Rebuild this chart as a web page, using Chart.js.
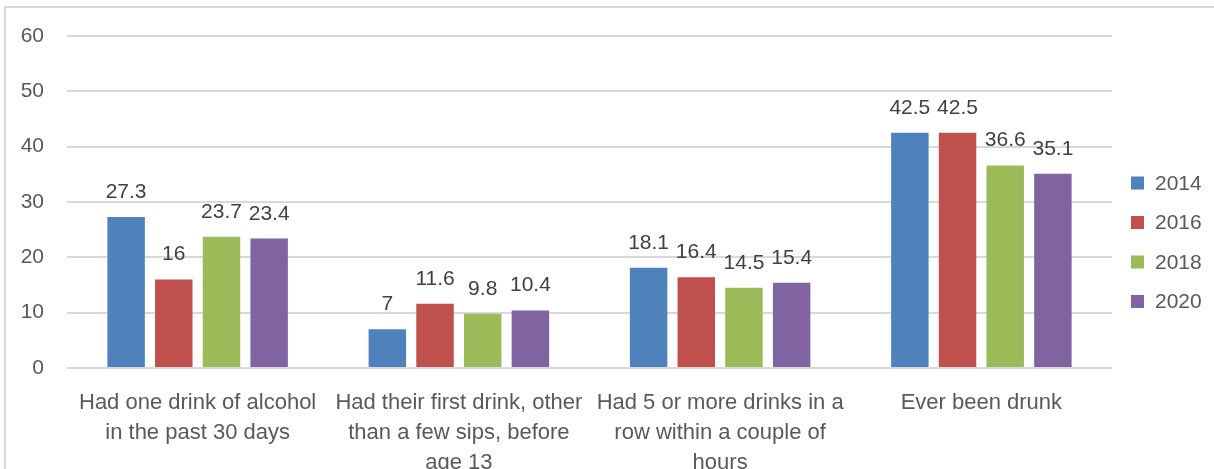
<!DOCTYPE html>
<html>
<head>
<meta charset="utf-8">
<script src="https://cdn.jsdelivr.net/npm/chart.js@4.4.1/dist/chart.umd.min.js"></script>
<style>
  html, body { margin: 0; padding: 0; background: #fff; }
  canvas { display: block; }
</style>
</head>
<body>
<canvas id="chart" width="1214" height="469"></canvas>
<script>
const categories = [
    ["Had one drink of alcohol", "in the past 30 days"],
    ["Had their first drink, other", "than a few sips, before", "age 13"],
    ["Had 5 or more drinks in a", "row within a couple of", "hours"],
    ["Ever been drunk"]
];
const years = ["2014", "2016", "2018", "2020"];
const values2014 = [27.3, 7, 18.1, 42.5];
const values2016 = [16, 11.6, 16.4, 42.5];
const values2018 = [23.7, 9.8, 14.5, 36.6];
const values2020 = [23.4, 10.4, 15.4, 35.1];
const colors = ["#4F81BD", "#C0504D", "#9BBB59", "#8064A2"];
const yTicks = [0, 10, 20, 30, 40, 50, 60];

const FONT = "'Liberation Sans', Arial, sans-serif";

// frame around the chart, like the original picture
const framePlugin = {
    id: "frame",
    beforeDraw(chart) {
        const ctx = chart.ctx;
        ctx.save();
        ctx.strokeStyle = "#d9d9d9";
        ctx.lineWidth = 2;
        ctx.beginPath();
        ctx.moveTo(5, chart.height);
        ctx.lineTo(5, 7);
        ctx.lineTo(chart.width, 7);
        ctx.stroke();
        ctx.restore();
    }
};

// value labels above the bars
const valueLabels = {
    id: "valueLabels",
    afterDatasetsDraw(chart) {
        const ctx = chart.ctx;
        ctx.save();
        ctx.font = "21px " + FONT;
        ctx.fillStyle = "#404040";
        ctx.textAlign = "center";
        ctx.textBaseline = "alphabetic";
        chart.data.datasets.forEach((ds, i) => {
            chart.getDatasetMeta(i).data.forEach((bar, j) => {
                ctx.fillText(String(ds.data[j]), bar.x, bar.y - 19);
            });
        });
        ctx.restore();
    }
};

// legend on the right side
const sideLegend = {
    id: "sideLegend",
    afterDraw(chart) {
        const ctx = chart.ctx;
        ctx.save();
        ctx.font = "21px " + FONT;
        ctx.textBaseline = "middle";
        ctx.textAlign = "left";
        chart.data.datasets.forEach((ds, i) => {
            const cy = 183 + i * 39.5;
            ctx.fillStyle = ds.backgroundColor;
            ctx.fillRect(1131, cy - 6.5, 13, 13);
            ctx.fillStyle = "#595959";
            ctx.fillText(ds.label, 1155, cy + 1);
        });
        ctx.restore();
    }
};

const seriesValues = [values2014, values2016, values2018, values2020];

new Chart(document.getElementById("chart").getContext("2d"), {
    type: "bar",
    data: {
        labels: categories,
        datasets: years.map((y, i) => ({
            label: y,
            data: seriesValues[i],
            backgroundColor: colors[i],
            categoryPercentage: 0.73,
            barPercentage: 0.786
        }))
    },
    options: {
        responsive: false,
        animation: false,
        layout: { padding: { top: 36, right: 102, left: 0, bottom: 0 } },
        plugins: {
            legend: { display: false },
            tooltip: { enabled: false }
        },
        scales: {
            x: {
                grid: { display: false },
                border: { display: false },
                ticks: {
                    color: "#595959",
                    font: { family: FONT, size: 22, lineHeight: 1.36 },
                    padding: 12,
                    maxRotation: 0,
                    autoSkip: false
                },
                afterFit(scale) { scale.height = 101; }
            },
            y: {
                min: 0,
                max: 60,
                afterBuildTicks(scale) {
                    scale.ticks = yTicks.map(v => ({ value: v }));
                },
                grid: { color: "#d9d9d9", lineWidth: 2, drawTicks: false },
                border: { display: false },
                ticks: {
                    color: "#595959",
                    font: { family: FONT, size: 21 },
                    padding: 23
                },
                afterFit(scale) { scale.width = 67; }
            }
        }
    },
    plugins: [framePlugin, valueLabels, sideLegend]
});
</script>
</body>
</html>
